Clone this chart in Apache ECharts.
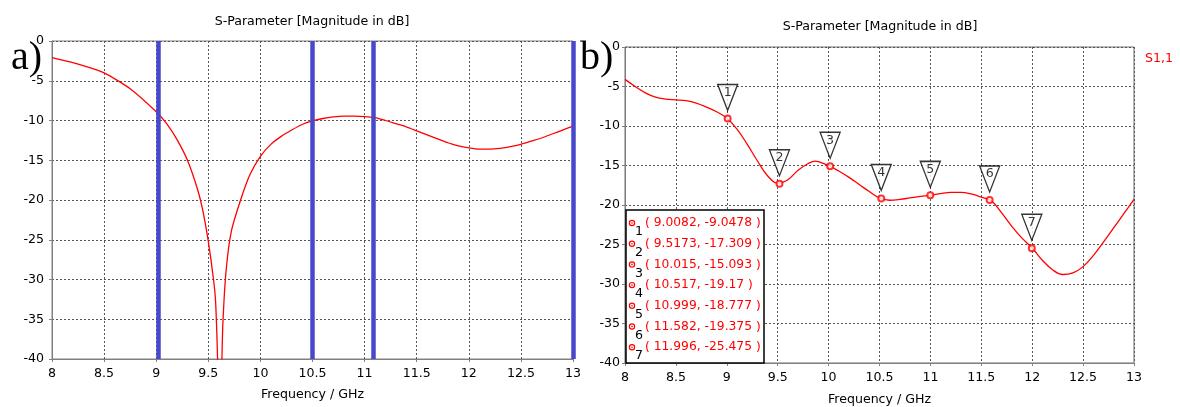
<!DOCTYPE html>
<html>
<head>
<meta charset="utf-8">
<script src="https://cdn.jsdelivr.net/npm/echarts@6/dist/echarts.min.js"></script>
<style>
html,body{margin:0;padding:0;background:#fff;}
#c{width:1180px;height:407px;}
</style>
</head>
<body>
<div id="c"></div>
<script>
// ---- data ----
const xTicks = [8, 8.5, 9, 9.5, 10, 10.5, 11, 11.5, 12, 12.5, 13];
const yTicks = [0, -5, -10, -15, -20, -25, -30, -35, -40];

// panel a) S11 curve
const freqA = [8.0, 8.25, 8.5, 8.75, 9.0, 9.1, 9.2, 9.3, 9.4, 9.45, 9.5, 9.55, 9.57, 9.59, 9.6, 9.62, 9.63, 9.64, 9.67, 9.72, 9.81, 9.9, 10.0, 10.1, 10.2, 10.3, 10.4, 10.5, 10.6, 10.7, 10.8, 10.9, 11.0, 11.1, 11.2, 11.3, 11.4, 11.5, 11.6, 11.7, 11.8, 11.9, 12.0, 12.1, 12.2, 12.3, 12.4, 12.5, 12.6, 12.7, 12.8, 12.9, 13.0];
const s11A  = [-2.1, -2.9, -4.0, -6.0, -8.9, -10.4, -12.4, -15.0, -18.8, -21.5, -25.2, -30.0, -32.8, -40.5, -48, -48, -40.5, -35.5, -29.0, -24.0, -20.0, -16.8, -14.5, -13.0, -12.0, -11.2, -10.5, -10.05, -9.75, -9.55, -9.45, -9.45, -9.5, -9.65, -10.0, -10.4, -10.8, -11.3, -11.8, -12.3, -12.8, -13.2, -13.45, -13.6, -13.6, -13.5, -13.3, -13.0, -12.6, -12.2, -11.7, -11.2, -10.7];
const blueLines = [9.02, 10.5, 11.08, 13.0];

// panel b) S11 curve
const freqB = [8.0, 8.1, 8.2, 8.3, 8.4, 8.5, 8.6, 8.7, 8.8, 8.9, 9.0, 9.1, 9.2, 9.3, 9.4, 9.5, 9.6, 9.7, 9.8, 9.87, 9.9, 10.0, 10.1, 10.2, 10.3, 10.4, 10.5, 10.6, 10.7, 10.8, 10.9, 11.0, 11.1, 11.2, 11.3, 11.4, 11.5, 11.6, 11.7, 11.8, 11.9, 12.0, 12.1, 12.2, 12.3, 12.4, 12.5, 12.6, 12.7, 12.8, 12.9, 13.0];
const s11B  = [-4.1, -5.0, -5.8, -6.35, -6.6, -6.7, -6.8, -7.1, -7.6, -8.2, -9.0, -10.4, -12.3, -14.4, -16.3, -17.25, -16.8, -15.6, -14.75, -14.45, -14.5, -15.0, -15.7, -16.5, -17.4, -18.3, -19.1, -19.4, -19.3, -19.1, -18.9, -18.78, -18.55, -18.4, -18.4, -18.6, -19.0, -19.5, -21.0, -22.7, -24.2, -25.45, -27.0, -28.2, -28.8, -28.6, -27.8, -26.4, -24.7, -22.9, -21.1, -19.3];

// markers of panel b)
const markerIds  = ['1', '2', '3', '4', '5', '6', '7'];
const markerFreq = [9.0082, 9.5173, 10.015, 10.517, 10.999, 11.582, 11.996];
const markerVal  = [-9.0478, -17.309, -15.093, -19.17, -18.777, -19.375, -25.475];
const markerText = ['( 9.0082, -9.0478 )', '( 9.5173, -17.309 )', '( 10.015, -15.093 )', '( 10.517, -19.17 )', '( 10.999, -18.777 )', '( 11.582, -19.375 )', '( 11.996, -25.475 )'];

// ---- layout ----
const FONT = 'DejaVu Sans';
const FS = 12.6;
const gA = {left: 52, top: 41, right: 607, bottom: 48};
const gB = {left: 625, top: 47, right: 46, bottom: 44};

const chart = echarts.init(document.getElementById('c'), null, {renderer: 'canvas'});

function xAxisCfg(gridIndex) {
  return {
    type: 'value', gridIndex, min: 8, max: 13, interval: 0.5,
    name: 'Frequency / GHz', nameLocation: 'middle', nameGap: gridIndex === 0 ? 29 : 30,
    nameTextStyle: {fontFamily: FONT, fontSize: FS, color: '#000'},
    axisLine: {show: true, onZero: false, lineStyle: {color: '#808080', width: 1}},
    axisTick: {show: true, length: 3, lineStyle: {color: '#808080'}},
    axisLabel: {fontFamily: FONT, fontSize: FS, color: '#000', margin: 8,
      formatter: v => String(v)},
    splitLine: {show: true, lineStyle: {color: '#555', type: [2, 2], width: 1}}
  };
}
function yAxisCfg(gridIndex) {
  return {
    type: 'value', gridIndex, min: -40, max: 0, interval: 5,
    axisLine: {show: true, onZero: false, lineStyle: {color: '#808080', width: 1}},
    axisTick: {show: true, length: 3, lineStyle: {color: '#808080'}},
    axisLabel: {fontFamily: FONT, fontSize: FS, color: '#000', margin: gridIndex === 0 ? 8 : 5},
    splitLine: {show: true, lineStyle: {color: '#555', type: [2, 2], width: 1}}
  };
}

const lineA = freqA.map((f, i) => [f, s11A[i]]);
const lineB = freqB.map((f, i) => [f, s11B[i]]);
const markers = markerFreq.map((f, i) => [f, markerVal[i], markerIds[i]]);

// legend box graphic (panel b)
const boxX = 626, boxY = 210, boxW = 138, boxH = 153, rowH = 20.7;
const boxChildren = [{
  type: 'rect', shape: {x: boxX, y: boxY, width: boxW, height: boxH},
  style: {fill: '#fff', stroke: '#000', lineWidth: 1.5}, z: 10
}];
markerIds.forEach((id, i) => {
  const cy = boxY + 13 + i * rowH;
  boxChildren.push({type: 'circle', shape: {cx: boxX + 6, cy: cy, r: 2.6},
    style: {fill: '#fff', stroke: '#f00', lineWidth: 1.2}, z: 11});
  boxChildren.push({type: 'circle', shape: {cx: boxX + 6, cy: cy, r: 0.8},
    style: {fill: '#f00'}, z: 12});
  boxChildren.push({type: 'text', x: boxX + 9, y: cy + 9,
    style: {text: id, fill: '#000', font: FS + 'px ' + FONT, textAlign: 'left', textVerticalAlign: 'middle'}, z: 11});
  boxChildren.push({type: 'text', x: boxX + 19, y: cy,
    style: {text: markerText[i], fill: '#f00', font: '12.3px ' + FONT, textAlign: 'left', textVerticalAlign: 'middle'}, z: 11});
});

const gridBase = {show: true, borderWidth: 1, backgroundColor: 'transparent', containLabel: false, outerBoundsMode: 'none'};

const option = {
  animation: false,
  backgroundColor: '#fff',
  grid: [
    Object.assign({}, gridBase, {borderColor: '#808080'}, gA),
    Object.assign({}, gridBase, {borderColor: '#6e6e6e'}, gB)
  ],
  xAxis: [xAxisCfg(0), xAxisCfg(1)],
  yAxis: [yAxisCfg(0), yAxisCfg(1)],
  graphic: [
    {type: 'text', x: 312, y: 22, style: {text: 'S-Parameter [Magnitude in dB]', fill: '#000', font: FS + 'px ' + FONT, textAlign: 'center', textVerticalAlign: 'middle'}},
    {type: 'text', x: 880, y: 27, style: {text: 'S-Parameter [Magnitude in dB]', fill: '#000', font: FS + 'px ' + FONT, textAlign: 'center', textVerticalAlign: 'middle'}},
    {type: 'text', x: 11, y: 38, style: {text: 'a)', fill: '#000', font: '40px "Liberation Serif"', textAlign: 'left', textVerticalAlign: 'alphabetic'}},
    {type: 'text', x: 580, y: 38, style: {text: 'b)', fill: '#000', font: '40px "Liberation Serif"', textAlign: 'left', textVerticalAlign: 'alphabetic'}},
    {type: 'text', x: 1145, y: 59, style: {text: 'S1,1', fill: '#f00', font: FS + 'px ' + FONT, textAlign: 'left', textVerticalAlign: 'middle'}},
    {type: 'group', children: boxChildren}
  ],
  series: [
    {
      type: 'line', xAxisIndex: 0, yAxisIndex: 0, data: lineA,
      smooth: 0.2, showSymbol: false, clip: true,
      lineStyle: {color: '#ff0000', width: 1.3},
      markLine: {
        silent: true, symbol: ['none', 'none'], label: {show: false},
        lineStyle: {color: '#4848cc', width: 4.5, type: 'solid'},
        data: blueLines.map(v => ({xAxis: v}))
      },
      z: 3
    },
    {
      type: 'line', xAxisIndex: 1, yAxisIndex: 1, data: lineB,
      smooth: 0.4, showSymbol: false, clip: true,
      lineStyle: {color: '#ff0000', width: 1.3}, z: 3
    },
    {
      type: 'scatter', xAxisIndex: 1, yAxisIndex: 1, data: markers,
      symbol: 'path://M0,0 L20,0 L10,26 Z', symbolSize: [20, 26], symbolOffset: [0, -21],
      itemStyle: {color: '#fff', borderColor: '#000', borderWidth: 1.4},
      label: {show: true, position: 'inside', offset: [0, -5], formatter: p => p.value[2],
        fontFamily: FONT, fontSize: FS, color: '#000'},
      z: 4
    },
    {
      type: 'scatter', xAxisIndex: 1, yAxisIndex: 1, data: markers,
      symbol: 'emptyCircle', symbolSize: 6,
      itemStyle: {color: '#ff0000', borderColor: '#ff0000', borderWidth: 1.3},
      z: 5
    }
  ]
};
chart.setOption(option);
</script>
</body>
</html>
